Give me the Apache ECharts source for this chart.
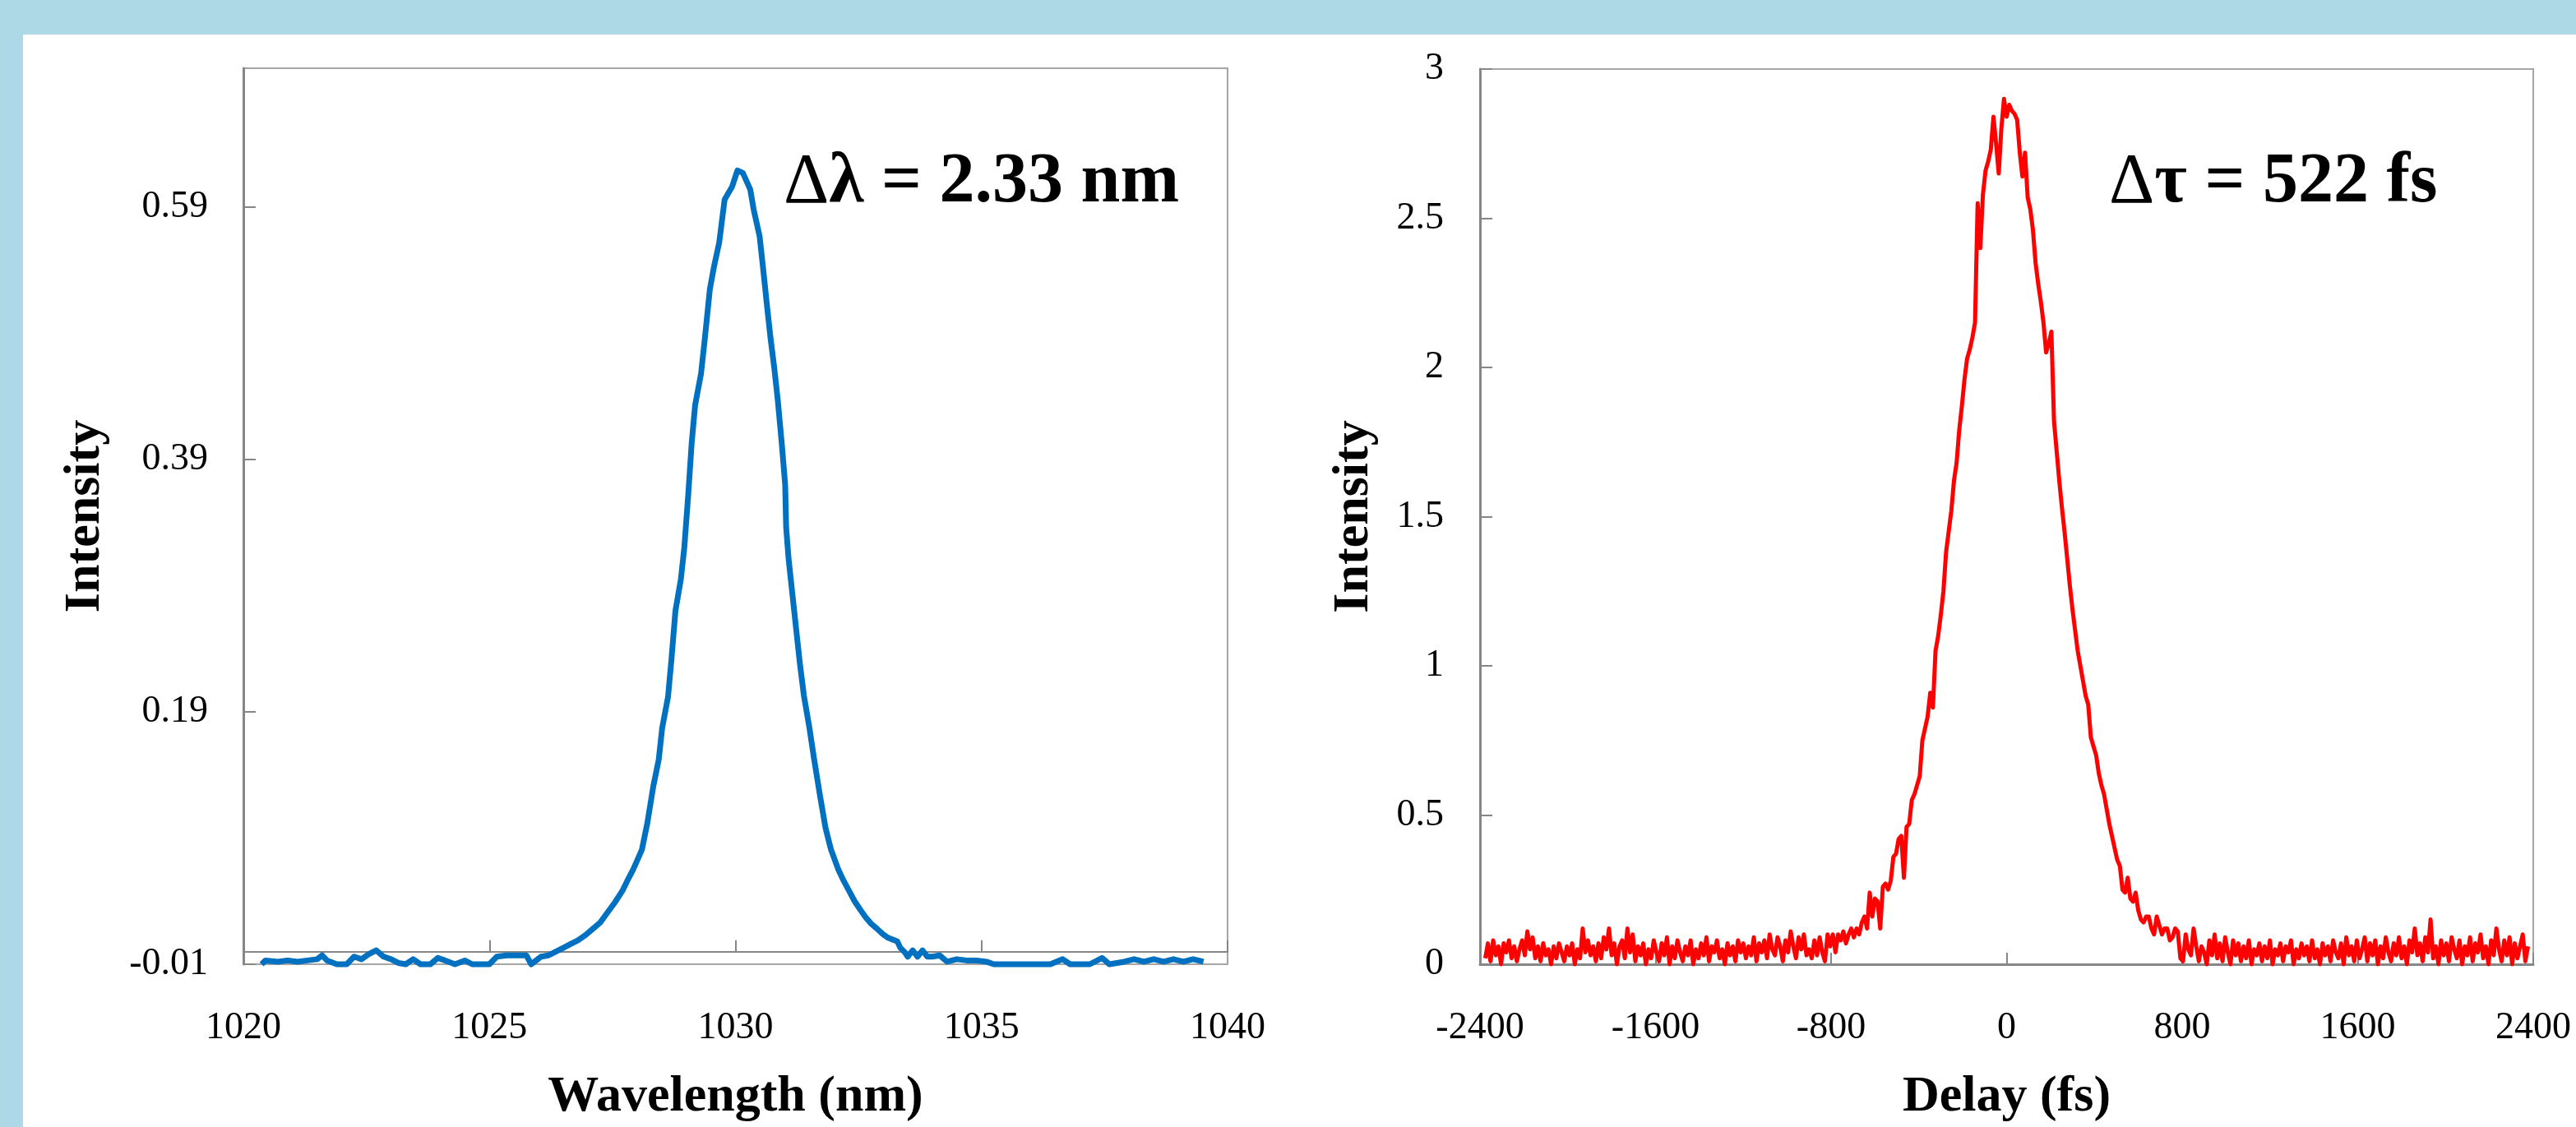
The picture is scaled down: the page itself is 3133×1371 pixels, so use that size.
<!DOCTYPE html>
<html>
<head>
<meta charset="utf-8">
<script src="https://cdn.jsdelivr.net/npm/echarts@6/dist/echarts.min.js"></script>
<style>
html,body{margin:0;padding:0;background:#ffffff;}
#chart{width:3133px;height:1371px;}
</style>
</head>
<body>
<div id="chart"></div>
<script>
// ---------- Left panel: spectrum ----------
const wavelength = [
1020.37,1020.45,1020.7,1020.9,1021.1,1021.3,1021.5,1021.6,1021.7,1021.9,
1022.1,1022.25,1022.4,1022.55,1022.7,1022.85,1023.0,1023.15,1023.3,1023.45,
1023.6,1023.8,1023.95,1024.1,1024.3,1024.5,1024.65,1024.85,1025.0,1025.15,
1025.35,1025.6,1025.75,1025.85,1025.95,1026.05,1026.2,1026.35,1026.5,1026.65,
1026.8,1026.95,1027.1,1027.25,1027.4,1027.55,1027.7,1027.8,1027.92,1028.0,
1028.1,1028.21,1028.33,1028.44,1028.51,1028.63,1028.70,1028.78,1028.89,1028.96,
1029.04,1029.11,1029.18,1029.30,1029.37,1029.48,1029.56,1029.67,1029.78,1029.93,
1030.04,1030.15,1030.30,1030.37,1030.49,1030.56,1030.64,1030.71,1030.79,1030.86,
1030.94,1031.01,1031.03,1031.08,1031.16,1031.24,1031.31,1031.39,1031.50,1031.60,
1031.72,1031.83,1031.94,1032.09,1032.20,1032.31,1032.42,1032.54,1032.65,1032.76,
1032.88,1032.99,1033.1,1033.29,1033.35,1033.43,1033.5,1033.6,1033.7,1033.8,
1033.9,1034.0,1034.15,1034.3,1034.5,1034.7,1034.9,1035.1,1035.25,1035.5,
1035.8,1036.1,1036.4,1036.65,1036.8,1037.2,1037.45,1037.6,1037.9,1038.1,
1038.3,1038.5,1038.7,1038.9,1039.1,1039.3,1039.51
];
const spectrum = [
-0.010,-0.007,-0.008,-0.007,-0.008,-0.007,-0.006,-0.003,-0.007,-0.010,
-0.010,-0.004,-0.006,-0.002,0.001,-0.004,-0.006,-0.009,-0.010,-0.006,
-0.010,-0.010,-0.005,-0.007,-0.010,-0.007,-0.010,-0.010,-0.010,-0.004,
-0.003,-0.003,-0.003,-0.010,-0.007,-0.004,-0.003,0.000,0.003,0.006,
0.009,0.013,0.018,0.023,0.031,0.039,0.048,0.056,0.065,0.072,
0.081,0.102,0.131,0.152,0.177,0.202,0.232,0.270,0.295,0.320,
0.362,0.403,0.433,0.458,0.483,0.525,0.542,0.562,0.596,0.606,
0.619,0.617,0.604,0.588,0.567,0.542,0.512,0.487,0.462,0.437,
0.403,0.370,0.336,0.311,0.282,0.253,0.228,0.203,0.178,0.152,
0.123,0.098,0.081,0.065,0.056,0.048,0.040,0.033,0.027,0.022,
0.018,0.014,0.011,0.008,0.003,0.000,-0.004,0.001,-0.004,0.001,
-0.004,-0.004,-0.003,-0.008,-0.006,-0.007,-0.007,-0.008,-0.010,-0.010,
-0.010,-0.010,-0.010,-0.006,-0.010,-0.010,-0.005,-0.010,-0.008,-0.006,
-0.008,-0.006,-0.008,-0.006,-0.008,-0.006,-0.008
];
const specTicks = [-0.01, 0.19, 0.39, 0.59];

// ---------- Right panel: autocorrelation ----------
// samples every 12 fs starting at -2376 fs
const delayStart = -2376;
const delayStep = 12;
const acBaseLeft = [ // -2376 .. -912 fs
0.02,0.07,0.01,0.08,0.03,0.06,0.00,0.07,0.04,0.08,0.02,0.06,0.01,0.05,0.08,0.03,0.11,0.05,0.09,0.02,
0.06,0.01,0.07,0.03,0.05,0.00,0.06,0.02,0.07,0.04,0.01,0.06,0.03,0.07,0.00,0.05,0.02,0.12,0.04,0.08,
0.03,0.06,0.01,0.07,0.02,0.09,0.05,0.12,0.03,0.07,0.00,0.06,0.08,0.02,0.12,0.04,0.10,0.01,0.06,0.03,
0.07,0.00,0.05,0.02,0.08,0.04,0.01,0.07,0.03,0.09,0.00,0.06,0.02,0.08,0.04,0.01,0.06,0.03,0.08,0.00,
0.05,0.02,0.07,0.03,0.09,0.01,0.06,0.04,0.08,0.02,0.05,0.00,0.07,0.03,0.06,0.01,0.08,0.04,0.07,0.02,
0.06,0.03,0.09,0.01,0.07,0.04,0.08,0.02,0.10,0.05,0.03,0.09,0.06,0.01,0.08,0.04,0.11,0.06,0.02,0.09,
0.05,0.10,0.03
];
const acPulse = [ // -900 .. 900 fs
0.05,0.02,0.08,0.03,0.09,0.04,0.01,0.10,0.06,0.10,
0.04,0.10,0.08,0.11,0.07,0.10,0.12,0.09,0.12,0.10,
0.14,0.16,0.12,0.24,0.16,0.22,0.21,0.12,0.26,0.27,
0.25,0.28,0.36,0.37,0.42,0.43,0.29,0.46,0.47,0.55,
0.57,0.60,0.63,0.75,0.79,0.83,0.91,0.86,1.05,1.10,
1.17,1.25,1.38,1.45,1.52,1.62,1.68,1.79,1.87,1.96,
2.03,2.06,2.10,2.15,2.55,2.40,2.58,2.66,2.69,2.73,
2.84,2.75,2.65,2.80,2.90,
2.84,
2.88,2.86,2.85,2.83,2.72,2.64,2.72,2.57,2.53,2.46,
2.35,2.28,2.22,2.15,2.05,2.08,2.12,1.82,1.72,1.62,
1.53,1.45,1.36,1.27,1.19,1.12,1.05,1.00,0.95,0.90,
0.87,0.76,0.73,0.70,0.64,0.60,0.57,0.52,0.47,0.43,
0.39,0.35,0.33,0.25,0.24,0.29,0.22,0.21,0.24,0.18,
0.15,0.14,0.16,0.16,0.12,0.10,0.16,0.13,0.10,0.12,
0.12,0.08,0.09,0.12,0.11,0.02,0.01,0.10,0.05,0.03,
0.12,0.06,0.01,0.06,0.04
];
const acBaseRight = [ // 912 .. 2376 fs
0.00,0.08,0.03,0.10,0.02,0.07,0.01,0.09,0.04,0.00,0.08,0.03,0.07,0.01,0.06,0.02,0.08,0.00,0.05,0.03,
0.07,0.01,0.06,0.02,0.08,0.00,0.05,0.03,0.07,0.01,0.06,0.04,0.08,0.00,0.05,0.02,0.07,0.03,0.06,0.01,
0.08,0.02,0.05,0.00,0.07,0.03,0.06,0.01,0.08,0.04,0.02,0.07,0.00,0.09,0.03,0.06,0.01,0.08,0.02,0.05,
0.09,0.01,0.07,0.03,0.08,0.00,0.06,0.02,0.09,0.04,0.01,0.07,0.03,0.09,0.02,0.06,0.00,0.08,0.04,0.12,
0.03,0.07,0.01,0.09,0.04,0.15,0.02,0.06,0.00,0.08,0.03,0.07,0.01,0.09,0.05,0.02,0.08,0.00,0.06,0.03,
0.09,0.01,0.07,0.04,0.10,0.02,0.06,0.00,0.08,0.03,0.12,0.05,0.01,0.08,0.03,0.09,0.00,0.07,0.02,0.06,
0.10,0.01,0.06
];
const autocorr = acBaseLeft.concat(acPulse, acBaseRight);

const FONT = 'Liberation Serif';
const GRAYAX = '#868686';

const specData = wavelength.map((w, i) => [w, spectrum[i]]);
const acData = autocorr.map((v, i) => [delayStart + i * delayStep, v]);

const chart = echarts.init(document.getElementById('chart'), null, {renderer: 'canvas'});
chart.setOption({
  animation: false,
  backgroundColor: '#ffffff',
  graphic: [
    {type: 'rect', z: -10, shape: {x: 0, y: 0, width: 3133, height: 42}, style: {fill: '#ADD8E6'}},
    {type: 'rect', z: -10, shape: {x: 0, y: 0, width: 28, height: 1371}, style: {fill: '#ADD8E6'}},
    {type: 'text', x: 953, y: 223, style: {
      text: '{d|Δ}{b|λ = 2.33 nm}', verticalAlign: 'middle', align: 'left',
      rich: {
        d: {fontFamily: FONT, fontSize: 86, fontWeight: 'normal', fill: '#000'},
        b: {fontFamily: FONT, fontSize: 86, fontWeight: 'bold', fill: '#000'}
      }}},
    {type: 'text', x: 2565, y: 223, style: {
      text: '{d|Δ}{b|τ = 522 fs}', verticalAlign: 'middle', align: 'left',
      rich: {
        d: {fontFamily: FONT, fontSize: 86, fontWeight: 'normal', fill: '#000'},
        b: {fontFamily: FONT, fontSize: 86, fontWeight: 'bold', fill: '#000'}
      }}}
  ],
  grid: [
    {left: 296, top: 83, width: 1197, height: 1114, show: true, borderColor: '#a6a6a6', borderWidth: 2, backgroundColor: 'transparent'},
    {left: 1800, top: 84, width: 1281, height: 1094, show: true, borderColor: '#a6a6a6', borderWidth: 2, backgroundColor: 'transparent'}
  ],
  xAxis: [
    {
      type: 'value', gridIndex: 0, min: 1020, max: 1040, interval: 5,
      splitLine: {show: false},
      axisLine: {show: true, onZero: true, lineStyle: {color: GRAYAX, width: 2}},
      axisTick: {show: true, inside: true, length: 14, lineStyle: {color: GRAYAX, width: 2}},
      axisLabel: {margin: 55, fontFamily: FONT, fontSize: 46, color: '#000', formatter: v => String(v)},
      name: 'Wavelength (nm)', nameLocation: 'middle', nameGap: 131,
      nameTextStyle: {fontFamily: FONT, fontSize: 62, fontWeight: 'bold', color: '#000'}
    },
    {
      type: 'value', gridIndex: 1, min: -2400, max: 2400, interval: 800,
      splitLine: {show: false},
      axisLine: {show: true, onZero: true, lineStyle: {color: GRAYAX, width: 3}},
      axisTick: {show: true, inside: true, length: 14, lineStyle: {color: GRAYAX, width: 2}},
      axisLabel: {margin: 55, fontFamily: FONT, fontSize: 46, color: '#000', formatter: v => String(v)},
      name: 'Delay (fs)', nameLocation: 'middle', nameGap: 131,
      nameTextStyle: {fontFamily: FONT, fontSize: 62, fontWeight: 'bold', color: '#000'}
    }
  ],
  yAxis: [
    {
      type: 'value', gridIndex: 0, min: -0.01, max: 0.7,
      splitLine: {show: false},
      axisLine: {show: true, onZero: false, lineStyle: {color: GRAYAX, width: 3}},
      axisTick: {show: true, inside: true, length: 15, customValues: specTicks, lineStyle: {color: GRAYAX, width: 2}},
      axisLabel: {customValues: specTicks, formatter: v => Number(v).toFixed(2), margin: 43, fontFamily: FONT, fontSize: 46, color: '#000'},
      name: 'Intensity', nameLocation: 'middle', nameGap: 161,
      nameTextStyle: {fontFamily: FONT, fontSize: 62, fontWeight: 'bold', color: '#000'}
    },
    {
      type: 'value', gridIndex: 1, min: 0, max: 3, interval: 0.5,
      splitLine: {show: false},
      axisLine: {show: true, onZero: false, lineStyle: {color: GRAYAX, width: 3}},
      axisTick: {show: true, inside: true, length: 15, lineStyle: {color: GRAYAX, width: 2}},
      axisLabel: {margin: 44, fontFamily: FONT, fontSize: 46, color: '#000'},
      name: 'Intensity', nameLocation: 'middle', nameGap: 122,
      nameTextStyle: {fontFamily: FONT, fontSize: 62, fontWeight: 'bold', color: '#000'}
    }
  ],
  series: [
    {
      type: 'line', xAxisIndex: 0, yAxisIndex: 0, data: specData,
      showSymbol: false, clip: false,
      lineStyle: {color: '#0070C0', width: 7, join: 'round'},
      itemStyle: {color: '#0070C0'}
    },
    {
      type: 'line', xAxisIndex: 1, yAxisIndex: 1, data: acData,
      showSymbol: false, clip: false,
      lineStyle: {color: '#FF0000', width: 5, join: 'round'},
      itemStyle: {color: '#FF0000'}
    }
  ]
});
</script>
</body>
</html>
